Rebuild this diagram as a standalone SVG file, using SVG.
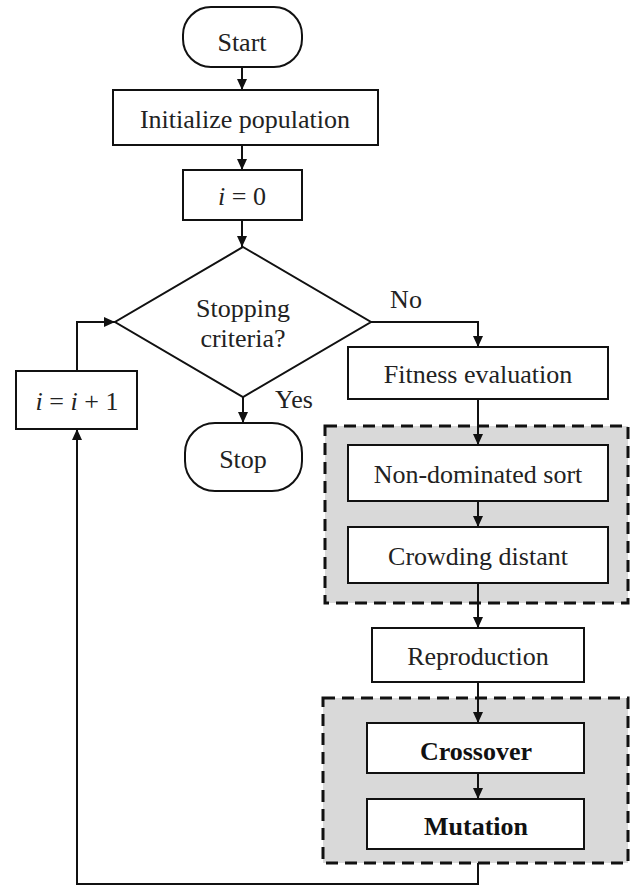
<svg xmlns="http://www.w3.org/2000/svg" width="630" height="886" viewBox="0 0 630 886">
<defs>
<marker id="ah" viewBox="0 0 10 10" refX="10" refY="5" markerWidth="11" markerHeight="10" markerUnits="userSpaceOnUse" orient="auto" preserveAspectRatio="none">
<path d="M0,0 L10,5 L0,10 z" fill="#111"/>
</marker>
</defs>
<style>
.box{fill:#fff;stroke:#111;stroke-width:2}
.grp{fill:#d9d9d9;stroke:#111;stroke-width:3;stroke-dasharray:12 7}
.t{font-family:"Liberation Serif","Times New Roman",serif;font-size:26px;fill:#222;text-anchor:middle}
.b{font-weight:bold;fill:#111}
.c{fill:none;stroke:#111;stroke-width:2}
.a{marker-end:url(#ah)}
</style>
<rect width="630" height="886" fill="#fff"/>
<g id="group1"><rect class="grp" x="325" y="426" width="303" height="177"/></g>
<g id="group2"><rect class="grp" x="323" y="698" width="305" height="165"/></g>
<g id="connectors">
<line class="c a" x1="242" y1="67" x2="242" y2="90"/>
<line class="c a" x1="242" y1="145" x2="242" y2="170"/>
<line class="c a" x1="242" y1="220" x2="242" y2="247"/>
<line class="c a" x1="243" y1="397" x2="243" y2="423"/>
<polyline class="c a" points="371,322 478,322 478,347"/>
<line class="c a" x1="478" y1="399" x2="478" y2="445"/>
<line class="c a" x1="478" y1="501" x2="478" y2="527"/>
<line class="c a" x1="478" y1="583" x2="478" y2="628"/>
<line class="c a" x1="478" y1="682" x2="478" y2="723"/>
<line class="c a" x1="478" y1="773" x2="478" y2="799"/>
<polyline class="c a" points="478,863 478,884 77,884 77,429"/>
<polyline class="c a" points="77,371 77,322 115,322"/>
<text class="t" x="406" y="308">No</text>
<text class="t" x="294" y="408">Yes</text>
</g>
<g id="start"><rect class="box" x="183" y="7" width="119" height="60" rx="28" ry="28"/><text class="t" x="242" y="51">Start</text></g>
<g id="init"><rect class="box" x="113" y="90" width="265" height="55"/><text class="t" x="245" y="128">Initialize population</text></g>
<g id="i0"><rect class="box" x="183" y="170" width="119" height="50"/><text class="t" x="242" y="205"><tspan font-style="italic">i</tspan> = 0</text></g>
<g id="decision"><polygon class="box" points="243,247 371,322 243,397 115,322"/><text class="t" x="243" y="317">Stopping</text><text class="t" x="243" y="347">criteria?</text></g>
<g id="stop"><rect class="box" x="185" y="423" width="117" height="68" rx="30" ry="30"/><text class="t" x="243" y="468">Stop</text></g>
<g id="inc"><rect class="box" x="16" y="371" width="121" height="58"/><text class="t" x="77" y="410"><tspan font-style="italic">i</tspan> = <tspan font-style="italic">i</tspan> + 1</text></g>
<g id="fitness"><rect class="box" x="348" y="347" width="260" height="52"/><text class="t" x="478" y="383">Fitness evaluation</text></g>
<g id="nds"><rect class="box" x="348" y="445" width="260" height="56"/><text class="t" x="478" y="483">Non-dominated sort</text></g>
<g id="crowd"><rect class="box" x="348" y="527" width="260" height="56"/><text class="t" x="478" y="565">Crowding distant</text></g>
<g id="repro"><rect class="box" x="372" y="628" width="212" height="54"/><text class="t" x="478" y="665">Reproduction</text></g>
<g id="cross"><rect class="box" x="367" y="723" width="217" height="50"/><text class="t b" x="476" y="760">Crossover</text></g>
<g id="mut"><rect class="box" x="367" y="799" width="217" height="50"/><text class="t b" x="476" y="835">Mutation</text></g>
</svg>
